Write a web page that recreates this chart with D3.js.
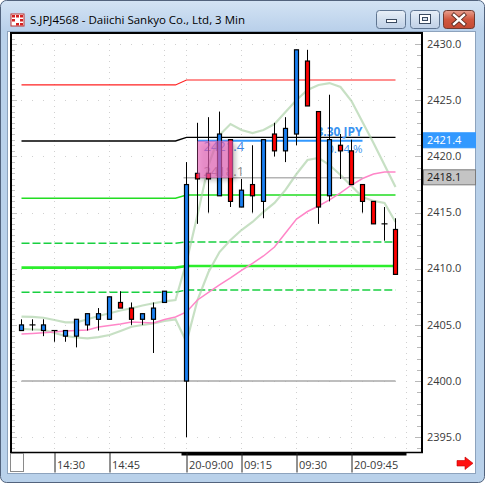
<!DOCTYPE html>
<html><head><meta charset="utf-8">
<script src="https://cdn.jsdelivr.net/npm/d3@7"></script>
<style>
html,body{margin:0;padding:0;background:#fff;overflow:hidden}
svg{display:block}
text{font-family:"Open Sans","Noto Sans",sans-serif}
</style></head><body>
<script>
// ---------- data ----------
const windowTitle = "S.JPJ4568 - Daiichi Sankyo Co., Ltd, 3 Min";

// 3-minute bars: afternoon session of the previous day, then the morning of the 20th
const day1Times = ["14:21","14:24","14:27","14:30","14:33","14:36","14:39","14:42","14:45","14:48","14:51","14:54","14:57","15:00"];
const breakSlot = ["15:03"];
const day2Times = ["09:00","09:03","09:06","09:09","09:12","09:15","09:18","09:21","09:24","09:27","09:30","09:33","09:36","09:39","09:42","09:45","09:48","09:51","09:54","09:57"];
const tailSlots = ["10:00","10:03"];

const opens  = [2404.5,2405.0,2404.5,2404.5,2404.0,2404.0,2405.0,2405.5,2405.5,2407.0,2406.5,2405.5,2405.5,2407.0,
                2400.0,2418.5,2418.5,2416.5,2421.5,2415.5,2417.5,2416.0,2422.0,2420.5,2422.0,2428.5,2424.0,2416.5,2421.0,2420.5,2417.5,2416.0,2414.0,2413.5];
const highs  = [2405.5,2405.5,2405.5,2404.5,2404.5,2405.5,2406.0,2406.5,2407.5,2408.0,2407.0,2406.0,2407.0,2408.0,
                2419.5,2423.0,2423.5,2424.0,2421.5,2418.0,2421.0,2421.5,2423.0,2423.5,2429.5,2429.5,2424.0,2425.5,2422.0,2421.5,2417.5,2416.0,2415.5,2414.5];
const lows   = [2404.5,2404.5,2404.0,2403.5,2403.5,2403.0,2404.5,2404.5,2405.5,2406.5,2405.0,2405.0,2402.5,2407.0,
                2395.0,2414.0,2415.0,2416.5,2415.5,2415.5,2415.0,2414.5,2420.0,2419.5,2421.0,2424.5,2414.0,2416.0,2418.0,2417.5,2415.0,2414.0,2412.5,2409.5];
const closes = [2405.0,2405.0,2405.0,2404.5,2404.5,2405.5,2406.0,2406.0,2407.5,2406.5,2405.5,2406.0,2406.5,2408.0,
                2417.5,2418.0,2418.0,2422.0,2416.0,2417.0,2416.5,2421.5,2420.5,2422.5,2429.5,2424.5,2415.5,2421.5,2420.5,2417.5,2416.0,2414.0,2414.0,2409.5];

// Bollinger bands and moving average, one value per slot (day 1, break slot, day 2)
const bandUpper = [2405.73,2405.71,2405.64,2405.44,2405.23,2405.23,2405.50,2405.79,2406.04,2406.28,2406.48,2406.73,2406.93,2407.09,
                   2407.22,
                   2410.60,2414.79,2419.24,2421.91,2422.89,2422.36,2422.09,2422.36,2422.89,2423.96,2425.03,2425.92,2426.37,2426.54,2426.19,2424.94,2423.07,2421.20,2419.24,2417.28];
const bandLower = [2404.64,2404.59,2404.55,2404.28,2404.01,2403.88,2403.81,2403.92,2404.10,2404.46,2404.84,2404.99,2405.14,2405.35,
                   2405.50,
                   2403.48,2407.22,2409.71,2411.49,2412.56,2413.45,2414.17,2415.06,2415.86,2417.02,2418.44,2419.69,2419.87,2419.24,2418.35,2417.37,2416.39,2416.04,2415.86,2414.17];
const movingAvg = [2404.19,2404.24,2404.31,2404.37,2404.46,2404.50,2404.55,2404.82,2404.95,2405.08,2405.26,2405.22,2405.17,2405.48,
                   2405.71,
                   2406.15,2407.22,2407.89,2408.56,2409.18,2409.85,2410.47,2411.14,2411.94,2413.19,2414.43,2415.10,2415.59,2416.13,2416.75,2417.46,2418.04,2418.44,2418.62,2418.62];

// daily reference levels (previous-day value, current-day value)
const levelNames = ["upper2","pivot","upper1","midUpper","base","midLower","round"];
const levelDay1  = [2426.37,2421.38,2416.28,2412.27,2410.10,2407.91,2400.0];
const levelDay2  = [2426.81,2421.71,2416.57,2412.39,2410.25,2408.11,2400.0];

// price-range measurement
const measureHigh = 2421.4, measureLow = 2418.1;
const measureFrom = "09:03", measureTo = "09:48", measureBoxTo = "09:12";
const measureDiff = "3.30 JPY", measurePct = "0.14 %";

const priceTicks = [2395,2400,2405,2410,2415,2420,2425,2430];
const gridTimes = ["14:30","14:45","15:00","09:00","09:15","09:30","09:45","10:00"];
const timeTicks = ["14:30","14:45","09:00","09:15","09:30","09:45"];
const timeLabels = ["14:30","14:45","20-09:00","09:15","09:30","20-09:45"];

// ---------- layout ----------
const W = 485, H = 483;
const plot = {left: 11, top: 33, right: 422, bottom: 452.5};
const svg = d3.select("body").append("svg").attr("width", W).attr("height", H);
const defs = svg.append("defs");

const slotKeys = day1Times.concat(breakSlot, day2Times, tailSlots);
const bandKeys = day1Times.concat(breakSlot, day2Times);
const barTimes = day1Times.concat(day2Times);

const x = d3.scalePoint().domain(slotKeys).range([21.5, 417.5]);
const y = d3.scaleLinear().domain([2395, 2430]).range([437.2, 44.2]);

// ---------- window frame ----------
const tg = defs.append("linearGradient").attr("id","titleGrad").attr("x1",0).attr("y1",0).attr("x2",0).attr("y2",1);
tg.append("stop").attr("offset","0%").attr("stop-color","#d3e3f4");
tg.append("stop").attr("offset","100%").attr("stop-color","#b9d0ea");
svg.append("rect").attr("x",0.5).attr("y",0.5).attr("width",W-1).attr("height",H-1).attr("rx",6)
  .attr("fill","#b9d1ea").attr("stroke","#52637d");
svg.append("rect").attr("x",1).attr("y",1).attr("width",W-2).attr("height",30).attr("rx",6).attr("fill","url(#titleGrad)");
// client area
svg.append("rect").attr("x",7.5).attr("y",31.5).attr("width",468).attr("height",442).attr("fill","#ffffff").attr("stroke","#8da3bd");

// window icon
const icon = svg.append("g").attr("transform","translate(11,14)");
icon.append("rect").attr("width",13).attr("height",12).attr("fill","#fff").attr("stroke","#b33");
[[1,1],[5,1],[9,1],[1,5],[9,5],[5,9],[9,9]].forEach(([a,b]) =>
  icon.append("rect").attr("x",a).attr("y",b).attr("width",3).attr("height",2.5).attr("fill","#d42020"));
svg.append("text").attr("x",30).attr("y",24).attr("font-size",11.5).attr("fill","#000").text(windowTitle);

// caption buttons
const bg = defs.append("linearGradient").attr("id","btnGrad").attr("x1",0).attr("y1",0).attr("x2",0).attr("y2",1);
bg.append("stop").attr("offset","0%").attr("stop-color","#e9f0f8");
bg.append("stop").attr("offset","50%").attr("stop-color","#d2dfee");
bg.append("stop").attr("offset","100%").attr("stop-color","#bfd0e6");
const cg = defs.append("linearGradient").attr("id","closeGrad").attr("x1",0).attr("y1",0).attr("x2",0).attr("y2",1);
cg.append("stop").attr("offset","0%").attr("stop-color","#e8a090");
cg.append("stop").attr("offset","50%").attr("stop-color","#d0573f");
cg.append("stop").attr("offset","100%").attr("stop-color","#c44a33");
svg.append("rect").attr("x",376.5).attr("y",10.5).attr("width",29).attr("height",18).attr("rx",3).attr("fill","url(#btnGrad)").attr("stroke","#5f7591");
svg.append("rect").attr("x",386.5).attr("y",19.5).attr("width",10).attr("height",3).attr("fill","#fff").attr("stroke","#3a4a60");
svg.append("rect").attr("x",410.5).attr("y",10.5).attr("width",29).attr("height",18).attr("rx",3).attr("fill","url(#btnGrad)").attr("stroke","#5f7591");
svg.append("rect").attr("x",419.5).attr("y",14.5).attr("width",11).attr("height",9).attr("fill","#fff").attr("stroke","#3a4a60");
svg.append("rect").attr("x",422.5).attr("y",17.5).attr("width",5).attr("height",3).attr("fill","#d8e2ee").attr("stroke","#3a4a60");
svg.append("rect").attr("x",443.5).attr("y",10.5).attr("width",31).attr("height",18).attr("rx",3).attr("fill","url(#closeGrad)").attr("stroke","#6e3a30");
svg.append("path").attr("d","M454,15 L464,24 M464,15 L454,24").attr("stroke","#5a2a20").attr("stroke-width",4.2).attr("stroke-linecap","square");
svg.append("path").attr("d","M454,15 L464,24 M464,15 L454,24").attr("stroke","#fff").attr("stroke-width",2.4).attr("stroke-linecap","square");

// ---------- grid ----------
const gridG = svg.append("g").attr("fill","#d0d0d0");
priceTicks.forEach(v => {
  slotKeys.forEach(k => gridG.append("rect").attr("x",x(k)-0.5).attr("y",Math.round(y(v))).attr("width",1).attr("height",1));
});
const halfSteps = d3.range(2393.5, 2431, 0.5).filter(v => y(v) > plot.top + 2 && y(v) < plot.bottom - 1);
gridTimes.forEach(k => {
  halfSteps.forEach(v => gridG.append("rect").attr("x",x(k)-0.5).attr("y",Math.round(y(v))).attr("width",1).attr("height",1));
});
// edge tick marks
halfSteps.forEach(v => {
  const major = Math.abs(v % 5) < 1e-9;
  svg.append("line").attr("x1",12).attr("x2", major ? 17 : 15).attr("y1",Math.round(y(v))+0.5).attr("y2",Math.round(y(v))+0.5)
    .attr("stroke","#c4c4c4");
  if (Number.isInteger(v)) {
    svg.append("line").attr("x1", major ? 415 : 417).attr("x2",421).attr("y1",Math.round(y(v))+0.5).attr("y2",Math.round(y(v))+0.5)
      .attr("stroke","#b8b8b8");
  }
});

// ---------- reference levels ----------
const levelStyle = {
  upper2:   {stroke:"#ff2020", width:1.2},
  pivot:    {stroke:"#000000", width:1.3},
  upper1:   {stroke:"#22dd22", width:1.4},
  midUpper: {stroke:"#18d040", width:1.4, dash:"8,3"},
  base:     {stroke:"#2cee2c", width:2.6},
  midLower: {stroke:"#18d040", width:1.4, dash:"8,3"},
  round:    {stroke:"#a8a8a8", width:1.4}
};
levelNames.forEach((name, i) => {
  const pts = day1Times.concat(breakSlot).map(k => [x(k), y(levelDay1[i])])
    .concat(day2Times.map(k => [x(k), y(levelDay2[i])]));
  const st = levelStyle[name];
  svg.append("path").attr("d", d3.line()(pts)).attr("fill","none")
    .attr("stroke", st.stroke).attr("stroke-width", st.width)
    .attr("stroke-dasharray", st.dash || null);
});

// ---------- bands and moving average ----------
const lineFor = arr => d3.line().x((d,i) => x(bandKeys[i])).y(d => y(d))(arr);
[bandUpper, bandLower].forEach(arr =>
  svg.append("path").attr("d", lineFor(arr)).attr("fill","none")
    .attr("stroke","#a9d0a4").attr("stroke-opacity",0.65).attr("stroke-width",2.2));
svg.append("path").attr("d", lineFor(movingAvg)).attr("fill","none")
  .attr("stroke","#ff86c8").attr("stroke-width",1.5);

// ---------- measurement lines and labels ----------
svg.append("line").attr("x1",x(measureFrom)-14).attr("x2",x(measureTo))
  .attr("y1",y(measureLow)).attr("y2",y(measureLow)).attr("stroke","#b4b4b4").attr("stroke-width",1.5);
svg.append("line").attr("x1",x(measureFrom)).attr("x2",x(measureTo))
  .attr("y1",y(measureHigh)).attr("y2",y(measureHigh)).attr("stroke","#3399ff").attr("stroke-width",1.8);
svg.append("text").attr("x",x(measureFrom)+6).attr("y",y(measureHigh)+10.5).attr("font-size",13)
  .attr("fill","#3f86e6").text(measureHigh.toFixed(1));
svg.append("text").attr("x",x(measureFrom)+6).attr("y",y(measureLow)-1.5).attr("font-size",13)
  .attr("fill","#8e8e8e").text(measureLow.toFixed(1));
svg.append("text").attr("x",x(measureTo)).attr("y",y(measureHigh)-5).attr("font-size",12)
  .attr("font-weight","bold").attr("text-anchor","end").attr("fill","#3a93f0").text(measureDiff);
svg.append("text").attr("x",x(measureTo)).attr("y",y(measureHigh)+12).attr("font-size",11.5)
  .attr("text-anchor","end").attr("fill","#3a93f0").text(measurePct);

// ---------- candles ----------
const bars = barTimes.map((t, i) => ({t, o: opens[i], h: highs[i], l: lows[i], c: closes[i]}));
const cg2 = svg.append("g");
bars.forEach(b => {
  const cx = x(b.t);
  cg2.append("line").attr("x1",cx).attr("x2",cx).attr("y1",y(b.h)).attr("y2",y(b.l)).attr("stroke","#000");
  if (b.o === b.c) {
    cg2.append("line").attr("x1",cx-3).attr("x2",cx+3).attr("y1",y(b.o)).attr("y2",y(b.o)).attr("stroke","#000").attr("stroke-width",1.2);
  } else {
    const top = y(Math.max(b.o, b.c)), bot = y(Math.min(b.o, b.c));
    cg2.append("rect").attr("x",cx-2).attr("y",top).attr("width",4).attr("height",bot-top)
      .attr("fill", b.c > b.o ? "#1a80f2" : "#ff0000").attr("stroke","#000").attr("stroke-width",1.2);
  }
});

// ---------- highlighted range box ----------
const sh = defs.append("filter").attr("id","boxShadow").attr("x","-20%").attr("y","-20%").attr("width","160%").attr("height","160%");
sh.append("feDropShadow").attr("dx",3).attr("dy",3).attr("stdDeviation",2).attr("flood-color","#000").attr("flood-opacity",0.35);
svg.append("rect").attr("x",x(measureFrom)).attr("y",y(measureHigh))
  .attr("width",x(measureBoxTo)+2.5-x(measureFrom)).attr("height",y(measureLow)-y(measureHigh))
  .attr("fill","#e660b8").attr("fill-opacity",0.62).attr("filter","url(#boxShadow)");

// ---------- plot frame ----------
svg.append("line").attr("x1",plot.left-1).attr("x2",plot.right+1).attr("y1",plot.top).attr("y2",plot.top).attr("stroke","#000").attr("stroke-width",2);
svg.append("line").attr("x1",plot.left).attr("x2",plot.left).attr("y1",plot.top).attr("y2",plot.bottom).attr("stroke","#000").attr("stroke-width",2);
svg.append("line").attr("x1",plot.right).attr("x2",plot.right).attr("y1",plot.top).attr("y2",plot.bottom).attr("stroke","#000").attr("stroke-width",2);
svg.append("line").attr("x1",plot.left-1).attr("x2",plot.right+1).attr("y1",plot.bottom).attr("y2",plot.bottom).attr("stroke","#000").attr("stroke-width",1.5);
svg.append("rect").attr("x",x("09:00")-5).attr("y",452).attr("width",x("10:00")+5-x("09:00")).attr("height",3.5).attr("fill","#000");

// ---------- price axis ----------
const yAxis = svg.append("g").attr("transform",`translate(${plot.right+1},0)`)
  .call(d3.axisRight(y).tickValues(priceTicks).tickSize(0).tickPadding(4).tickFormat(d3.format(".1f")));
yAxis.select(".domain").remove();
yAxis.selectAll("text").attr("font-family",null).attr("font-size",11).attr("fill","#3a3a3a").attr("dy","0.28em");

// value markers on the price axis
function priceBadge(v, fill, stroke, color) {
  const cy = y(v);
  svg.append("rect").attr("x",plot.right+1.5).attr("y",cy-8).attr("width",52).attr("height",15)
    .attr("fill",fill).attr("stroke",stroke);
  svg.append("text").attr("x",plot.right+5).attr("y",cy+3.5).attr("font-size",11).attr("fill",color).text(v.toFixed(1));
}
priceBadge(measureHigh, "#3399ff", "#3399ff", "#ffffff");
priceBadge(measureLow, "#c4c4c4", "#7a7a7a", "#1a1a1a");

// ---------- time axis ----------
const xAxis = svg.append("g").attr("transform",`translate(0,${plot.bottom+0.5})`)
  .call(d3.axisBottom(x).tickValues(timeTicks).tickSize(19.5)
    .tickFormat(k => timeLabels[timeTicks.indexOf(k)]));
xAxis.select(".domain").remove();
xAxis.selectAll("line").attr("stroke","#222");
xAxis.selectAll("text").attr("font-family",null).attr("font-size",11).attr("fill","#3a3a3a")
  .attr("text-anchor","start").attr("x",2).attr("y",16).attr("dy",0);

// corner box and scroll arrow
svg.append("rect").attr("x",10.5).attr("y",453.5).attr("width",13).attr("height",18).attr("fill","#fff").attr("stroke","#8a8a8a");
svg.append("path").attr("d","M457,460.5 L465,460.5 L465,457 L473,463.3 L465,469.5 L465,466 L457,466 Z")
  .attr("fill","#ff1010").attr("stroke","#c00000").attr("stroke-width",0.6);
</script>
</body></html>
